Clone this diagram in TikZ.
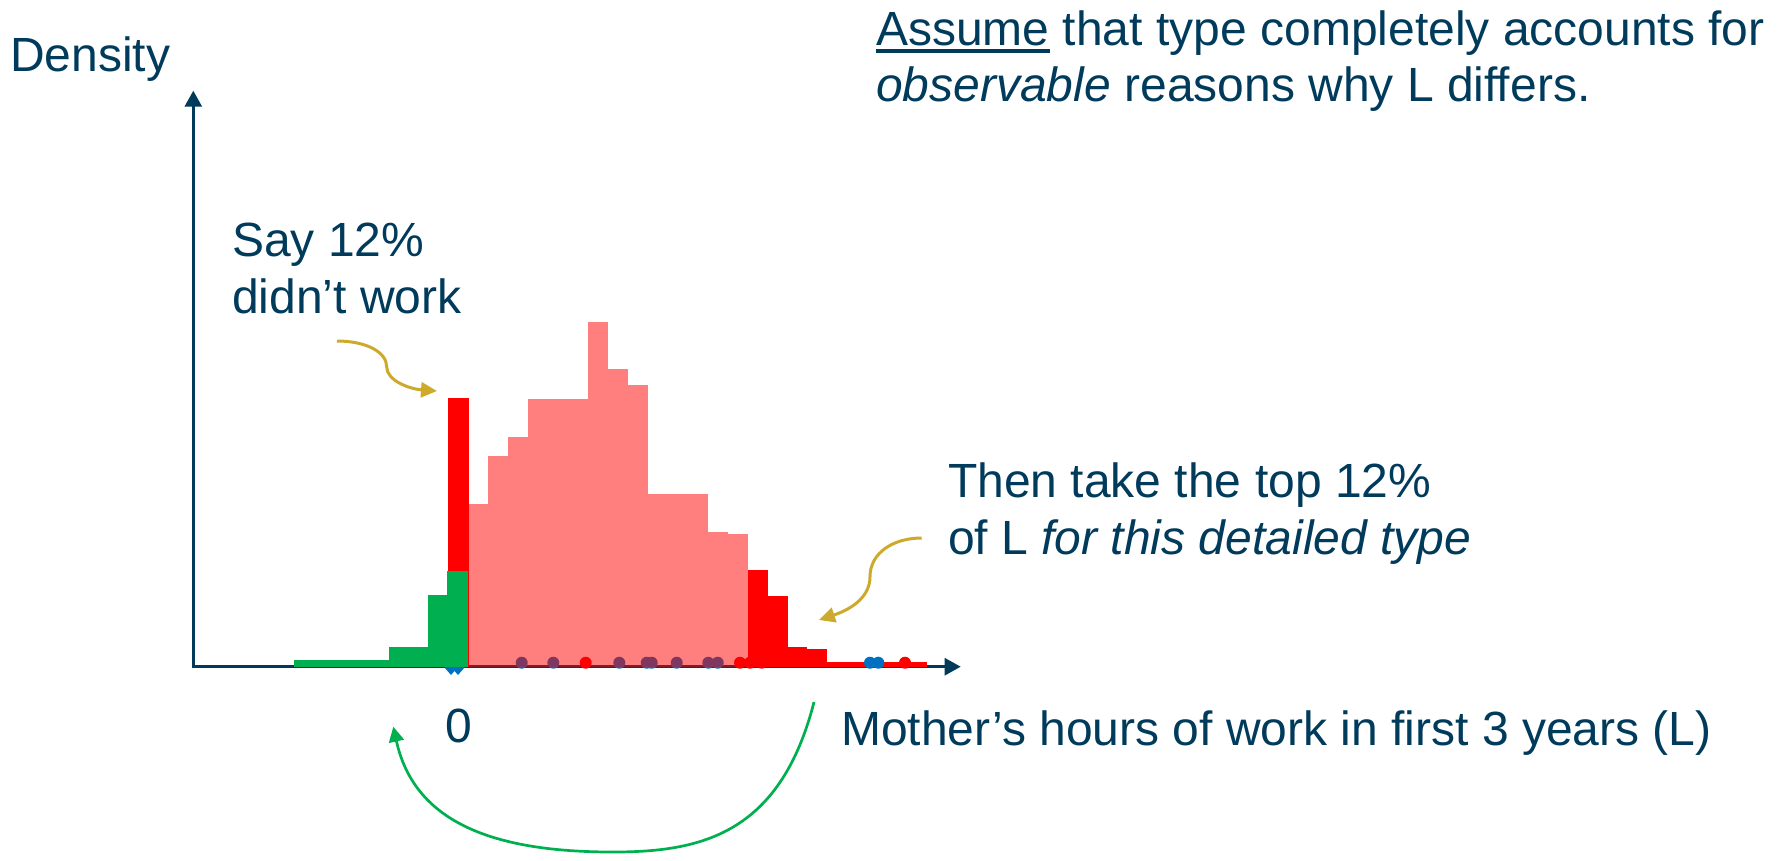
\documentclass[tikz,border=0pt]{standalone}
\usepackage{fontspec}
\setmainfont{Liberation Sans}
\usetikzlibrary{arrows.meta}
\definecolor{navy}{HTML}{003B5C}
\definecolor{gold}{HTML}{CDAA2B}
\definecolor{pgreen}{HTML}{00B050}
\definecolor{pblue}{HTML}{0070C0}
\definecolor{pred}{HTML}{FF0000}
\newcommand\myul[1]{\setbox0=\hbox{#1}\rlap{\rule[-7.5pt]{\wd0}{3.4pt}}\box0\relax}
\newcommand\histbin[4]{\fill[#4] (#1,#3) rectangle (#2,666.7);}
\newcommand\obsdot[2]{\fill[#2] (#1,662.7) circle[radius=6pt];}
\begin{document}
\begin{tikzpicture}[x=1pt,y=-1pt,
  txt/.style={text=navy, font=\fontsize{48}{57}\selectfont, inner sep=0pt, anchor=base west},
  axisline/.style={draw=navy, line width=2.7pt},
  goldarrow/.style={draw=gold, line width=3pt, -{Triangle[length=16pt,width=15pt]}},
  greenarrow/.style={draw=pgreen, line width=2.7pt, -{Triangle[length=15pt,width=15pt]}},
  pinkbar/.style={fill=pred, fill opacity=0.5}]
\useasboundingbox (0,0) rectangle (1777,860);
\fill[white] (0,0) rectangle (1777,860);

% axes
\coordinate (O) at (193.3,666.7);
\coordinate (ytip) at (193.3,90.7);
\coordinate (xtip) at (960.7,666.7);
\draw[axisline, {Triangle[length=16pt,width=17pt]}-{Triangle[length=16pt,width=17pt]}] (ytip) -- (O) -- (xtip);

% red bar at zero and red tail
\histbin{448}{468.5}{398}{pred}
\histbin{748}{768}{570}{pred}
\histbin{768}{788}{596}{pred}
\histbin{788}{807}{647}{pred}
\histbin{807}{827}{649}{pred}
\histbin{827}{927}{661.7}{pred}

% blue diamonds at zero
\fill[pblue] (451,660) -- (457.5,667.5) -- (451,675) -- (444.5,667.5) -- cycle;
\fill[pblue] (458,660) -- (464.5,667.5) -- (458,675) -- (451.5,667.5) -- cycle;

% green bars
\histbin{294}{389}{660}{pgreen}
\histbin{389}{428}{647}{pgreen}
\histbin{428}{447.3}{595}{pgreen}
\histbin{447.3}{467.5}{571}{pgreen}

% observation dots
\obsdot{521.7}{pblue}
\obsdot{553.3}{pblue}
\obsdot{619.3}{pblue}
\obsdot{646.7}{pblue}
\obsdot{651.7}{pblue}
\obsdot{676.7}{pblue}
\obsdot{708.3}{pblue}
\obsdot{717.7}{pblue}
\obsdot{870}{pblue}
\obsdot{878.3}{pblue}
\obsdot{585.7}{pred}
\obsdot{740}{pred}
\obsdot{750}{pred}
\obsdot{761.7}{pred}
\obsdot{905}{pred}

% translucent (pink) bars
\histbin{468}{488}{504}{pinkbar}
\histbin{488}{508}{455.7}{pinkbar}
\histbin{508}{528}{436.7}{pinkbar}
\histbin{528}{588}{399}{pinkbar}
\histbin{588}{608}{322}{pinkbar}
\histbin{608}{628}{369}{pinkbar}
\histbin{628}{648}{385}{pinkbar}
\histbin{648}{708}{493.7}{pinkbar}
\histbin{708}{728}{531.7}{pinkbar}
\histbin{728}{748}{534}{pinkbar}

% texts
\node[txt] (density) at (10,71.7) {Density};
\node[txt] (say1) at (232,256.7) {Say 12\%};
\node[txt] (say2) at (232,313.5) {didn’t work};
\node[txt] (assume1) at (876,45) {\myul{Assume} that type completely accounts for};
\node[txt] (assume2) at (876,101.7) {\textit{observable} reasons why L differs.};
\node[txt] (then1) at (948,497) {Then take the top 12\%};
\node[txt] (then2) at (948,554) {of L \textit{for this detailed type}};
\node[txt] (zero) at (445,742) {0};
\node[txt] (xlabel) at (841,745.5) {Mother’s hours of work in first 3 years (L)};

% gold arrows
\coordinate (a1s) at (337,341);
\coordinate (a1m) at (386.7,366.7);
\coordinate (a1e) at (437,391);
\draw[goldarrow] (a1s) .. controls (366,341) and (386.7,352) .. (a1m)
  .. controls (386.7,381) and (410,389) .. (a1e);
\coordinate (a2s) at (921.7,538);
\coordinate (a2m) at (870,576.7);
\coordinate (a2e) at (819,620);
\draw[goldarrow] (a2s) .. controls (893,538) and (870,553) .. (a2m)
  .. controls (870,600) and (846,611) .. (a2e);

% green arrow
\coordinate (g1) at (814,702);
\coordinate (gm) at (613,852);
\coordinate (g2) at (393.3,726.7);
\draw[greenarrow] (g1) .. controls (780,835) and (700,852) .. (gm)
  .. controls (500,852) and (415,826) .. (g2);
\end{tikzpicture}
\end{document}
